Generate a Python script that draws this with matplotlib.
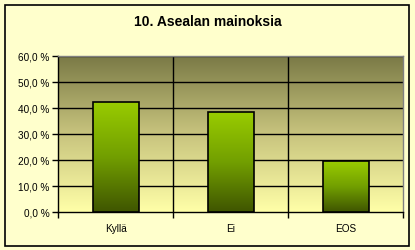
import numpy as np
import matplotlib.pyplot as plt
from matplotlib.colors import LinearSegmentedColormap
from matplotlib.patches import Rectangle

categories = ['Kyllä', 'Ei', 'EOS']
values = [42.5, 38.3, 19.6]
yticks = [0, 10, 20, 30, 40, 50, 60]
ytick_labels = ['0,0 %', '10,0 %', '20,0 %', '30,0 %', '40,0 %', '50,0 %', '60,0 %']
title = '10. Asealan mainoksia'

plt.rcParams['font.family'] = ['Liberation Sans', 'DejaVu Sans']

fig = plt.figure(figsize=(4.15, 2.5), dpi=100, facecolor='#ffffcc')
ax = fig.add_axes([58/415, 38/250, 345/415, 156/250])

# background gradient of the plot area (dark olive on top -> light yellow at bottom)
bg = LinearSegmentedColormap.from_list('bg', ['#ffffa8', '#c8c47e', '#7a7a46'])
grad = np.linspace(0, 1, 256).reshape(-1, 1)
ax.imshow(grad, cmap=bg, origin='lower', aspect='auto',
          extent=[-0.5, 2.5, 0, 60], zorder=0)

# bars with their own gradient
barcm = LinearSegmentedColormap.from_list('bar', ['#3f5500', '#729f00', '#99cc00'])
x = np.arange(len(categories))
bars = ax.bar(x, values, width=0.4, facecolor='none', edgecolor='black',
              linewidth=1.2, zorder=4)
for b in bars:
    im = ax.imshow(grad, cmap=barcm, origin='lower', aspect='auto',
                   extent=[b.get_x(), b.get_x() + b.get_width(), 0, b.get_height()],
                   zorder=3)
    im.set_clip_path(b)

ax.set_xlim(-0.5, 2.5)
ax.set_ylim(0, 60)

# grid
for yy in yticks[1:]:
    ax.axhline(yy, color='black', linewidth=1, zorder=2)
for xx in [0.5, 1.5]:
    ax.axvline(xx, color='black', linewidth=1, zorder=2)

ax.set_yticks(yticks)
ax.set_yticklabels(ytick_labels, fontsize=7.2)
ax.set_xticks(x)
ax.set_xticklabels(categories, fontsize=7.2)
ax.set_xticks([-0.5, 0.5, 1.5, 2.5], minor=True)
ax.tick_params(axis='x', which='major', length=0, pad=9)
ax.tick_params(axis='x', which='minor', length=4, width=1, direction='out')
ax.tick_params(axis='y', length=4, width=1, direction='out', pad=2)

for s in ['left', 'bottom']:
    ax.spines[s].set_color('black')
    ax.spines[s].set_linewidth(1)
for s in ['top', 'right']:
    ax.spines[s].set_color('#808080')
    ax.spines[s].set_linewidth(1)

fig.text(208/415, 1 - 22/250, title, ha='center', va='center',
         fontsize=10, fontweight='bold')

fig.patches.append(Rectangle((5/415, 4/250), 404/415, 241/250, transform=fig.transFigure,
                             fill=False, edgecolor='black', linewidth=1.2))

fig.savefig('out.png', dpi=100, facecolor='#ffffcc')
